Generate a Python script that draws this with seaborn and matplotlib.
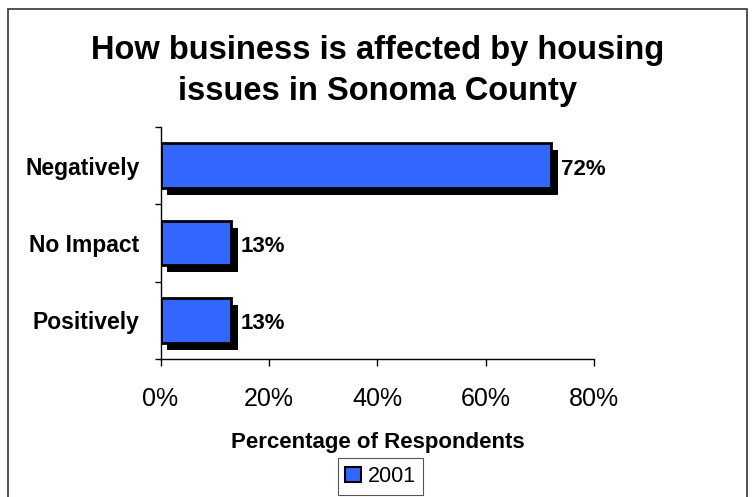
import matplotlib
matplotlib.use("Agg")
import matplotlib.pyplot as plt
import matplotlib.patheffects as pe
from matplotlib.patches import Rectangle
from matplotlib.ticker import FixedLocator
import seaborn as sns
import pandas as pd

categories = ["Negatively", "No Impact", "Positively"]
values = [72, 13, 13]
value_labels = ["72%", "13%", "13%"]
xticks = [0, 20, 40, 60, 80]
xtick_labels = ["0%", "20%", "40%", "60%", "80%"]
series_name = "2001"
title = "How business is affected by housing\nissues in Sonoma County"
xlabel = "Percentage of Respondents"

sns.set_style("ticks")
plt.rcParams["font.family"] = ["Liberation Sans", "DejaVu Sans"]
plt.rcParams.update({"text.color": "black", "axes.labelcolor": "black",
                     "xtick.color": "black", "ytick.color": "black",
                     "axes.edgecolor": "black"})

df = pd.DataFrame({"category": categories, "value": values})

fig = plt.figure(figsize=(7.55, 4.97), dpi=100)
fig.patch.set_facecolor("white")
ax = fig.add_axes([160.5 / 755, 1 - 359 / 497, (594.3 - 160.5) / 755, (359 - 127) / 497])

sns.barplot(data=df, x="value", y="category", orient="h", color="#3366FF",
            saturation=1, edgecolor="black", linewidth=2, width=0.58,
            label=series_name, ax=ax)

ax.set_xlim(0, 80)
ax.set_ylim(2.5, -0.5)
ax.set_xticks(xticks)
ax.set_xticklabels(xtick_labels, fontsize=18, color="black")
ax.tick_params(axis="x", length=5, width=1, pad=15, color="black", labelcolor="black", direction="out")
ax.set_yticks(range(len(categories)))
ax.set_yticklabels(categories, fontsize=16.5, fontweight="bold", color="black")
ax.tick_params(axis="y", which="major", length=0, pad=15, labelcolor="black")
ax.yaxis.set_minor_locator(FixedLocator([-0.5, 0.5, 1.5, 2.5]))
ax.tick_params(axis="y", which="minor", length=4.5, width=1, color="black", direction="out", left=True)
ax.set_ylabel("")
ax.set_xlabel(xlabel, fontsize=16, fontweight="bold", labelpad=15, color="black")
for s in ["top", "right"]:
    ax.spines[s].set_visible(False)
for s in ["left", "bottom"]:
    ax.spines[s].set_color("black")
    ax.spines[s].set_linewidth(1)

leg = ax.legend(loc="center", bbox_to_anchor=(380.5 / 755, 1 - 476.5 / 497),
                bbox_transform=fig.transFigure, fontsize=15.5, frameon=True,
                fancybox=False, framealpha=1, edgecolor="#555555",
                handlelength=0.75, handleheight=0.75, handletextpad=0.3,
                borderpad=0.35, borderaxespad=0)
leg.get_frame().set_linewidth(0.8)
for t in leg.get_texts():
    t.set_color("black")
for h in leg.legend_handles:
    h.set_edgecolor("black")
    h.set_linewidth(1.5)

container = ax.containers[0]
for bar in container:
    bar.set_path_effects([pe.SimplePatchShadow(offset=(5, -5), shadow_rgbFace="black", alpha=1.0), pe.Normal()])
texts = ax.bar_label(container, labels=value_labels, padding=7, fontsize=16,
                     fontweight="bold", color="black")
for t in texts:
    t.xyann = (7, -2.5)

fig.text(378 / 755, 1 - 71 / 497, title, ha="center", va="center",
         fontsize=23.5, fontweight="bold", linespacing=1.4, color="black")

fig.patches.append(Rectangle((8 / 755, -0.1), (747 - 8) / 755, 1.1 - 9 / 497,
                             transform=fig.transFigure, fill=False,
                             edgecolor="#333333", linewidth=1.2, figure=fig))

fig.savefig("out.png", dpi=100, facecolor="white")
